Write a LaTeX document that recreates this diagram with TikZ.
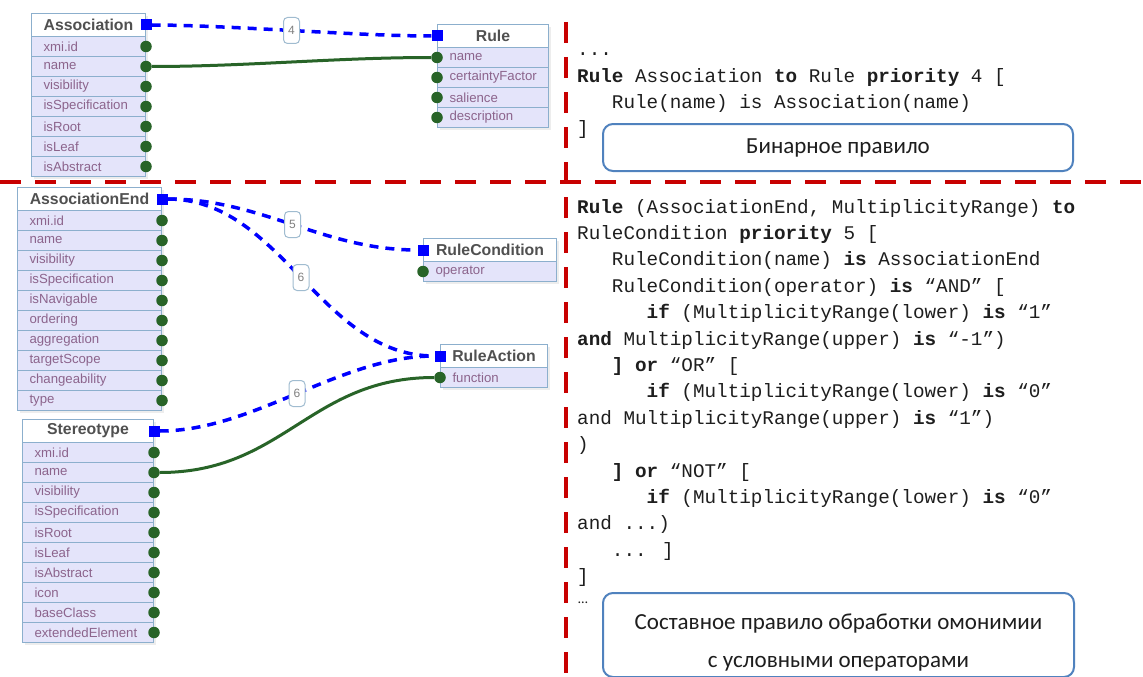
\documentclass[tikz,border=0pt]{standalone}
\usepackage{fontspec}
\setmainfont{Liberation Sans}
\newfontfamily\codefont{Liberation Mono}
\newfontfamily\capfont{Carlito}
\definecolor{rowfill}{RGB}{228,228,250}
\definecolor{boxborder}{RGB}{140,175,205}
\definecolor{rowtext}{RGB}{140,100,140}
\definecolor{hdrtext}{RGB}{80,80,80}
\definecolor{dotgreen}{RGB}{40,100,40}
\definecolor{linkblue}{RGB}{0,0,255}
\definecolor{sepred}{RGB}{200,0,0}
\definecolor{capblue}{RGB}{80,130,190}
\definecolor{lblborder}{RGB}{160,188,208}
\definecolor{codetext}{RGB}{30,30,30}
\newcommand{\tdots}{...}
\newcommand{\umlclass}[8]{%
  \fill[black, opacity=0.07] ({#2+3},{-#3-3}) rectangle ({#2+#4+3},{-#3-23-20*#6-3});
  \node[hdr, minimum width=#4pt, anchor=north west] (#1) at (#2,-#3) {#5};
  \pgfmathsetmacro{\tw}{#4-24}%
  \foreach \r [count=\i] in {#7} {%
    \node[rowbox, minimum width=#4pt, text width=\tw pt, anchor=north west] (#1-\i) at (#2,{-#3-23-20*(\i-1)}) {\r};
  }%
  \foreach \r [count=\i] in {#7} {%
    \node[dot] (#1-\i-p) at (#1-\i.#8) {};
  }%
  \node[sq] (#1-s) at (#1.#8) {};
}
\begin{document}
\begin{tikzpicture}[x=1pt,y=1pt,
  hdr/.style={rectangle, draw=boxborder, fill=white, line width=1pt, minimum height=23pt, inner sep=0pt, font=\bfseries\fontsize{15.8}{17}\selectfont, text=hdrtext},
  rowbox/.style={rectangle, draw=boxborder, fill=rowfill, line width=1pt, minimum height=20pt, inner xsep=12pt, inner ysep=0pt, font=\fontsize{13.2}{14}\selectfont, text=rowtext, align=left},
  dot/.style={circle, fill=dotgreen, inner sep=0pt, minimum size=11.5pt},
  sq/.style={rectangle, fill=linkblue, inner sep=0pt, minimum size=11pt},
  link/.style={draw=linkblue, line width=3.5pt, dash pattern=on 9pt off 7pt},
  attr/.style={draw=dotgreen, line width=3pt},
  lbl/.style={draw=lblborder, solid, line width=1pt, fill=white, rounded corners=4pt, minimum width=16pt, minimum height=26pt, inner sep=0pt, font=\fontsize{12}{13}\selectfont, text=gray},
  sep/.style={draw=sepred, line width=4pt, dash pattern=on 21pt off 14pt},
  code/.style={anchor=base west, inner sep=0pt, font=\codefont\fontsize{19.3}{24}\selectfont, text=codetext},
  capbox/.style={draw=capblue, line width=2pt, rounded corners=10pt, fill=white, anchor=north west, inner sep=0pt},
  captext/.style={font=\capfont\fontsize{23}{38}\selectfont, text=codetext, align=center, inner sep=0pt}
]
\useasboundingbox (0,0) rectangle (1143,-677);
\fill[white] (0,0) rectangle (1143,-677);
% separators
\coordinate (hL) at (0,-182);
\coordinate (hR) at (1143,-182);
\coordinate (vT) at (566,-22);
\coordinate (vB) at (566,-677);
\draw[sep] (hL) -- (hR);
\draw[sep] (vT) -- (vB);
% classes
\umlclass{assoc}{31}{13}{114}{Association}{7}{xmi.id,name,visibility,isSpecification,isRoot,isLeaf,isAbstract}{east}
\umlclass{rule}{437}{24}{111}{Rule}{4}{name,certaintyFactor,salience,description}{west}
\umlclass{ae}{17}{187}{144}{AssociationEnd}{10}{xmi.id,name,visibility,isSpecification,isNavigable,ordering,aggregation,targetScope,changeability,type}{east}
\umlclass{rc}{423}{238}{133}{RuleCondition}{1}{operator}{west}
\umlclass{ra}{440}{344}{107}{RuleAction}{1}{function}{west}
\umlclass{st}{22}{419}{131}{Stereotype}{10}{xmi.id,name,visibility,isSpecification,isRoot,isLeaf,isAbstract,icon,baseClass,extendedElement}{east}
% connectors
\draw[link] (assoc-s) .. controls +(80,0) and +(-80,0) .. (rule-s) node[lbl, pos=0.5] (l4) {4};
\draw[attr] (assoc-2-p) .. controls +(100,0) and +(-100,0) .. (rule-1-p);
\draw[link] (ae-s) .. controls +(100,0) and +(-100,0) .. (rc-s) node[lbl, pos=0.5] (l5) {5};
\draw[link] (ae-s) .. controls +(120,0) and +(-120,0) .. (ra-s) node[lbl, pos=0.5] (l6a) {6};
\draw[link] (st-s) .. controls +(100,0) and +(-100,0) .. (ra-s) node[lbl, pos=0.5] (l6b) {6};
\draw[attr] (st-2-p) .. controls +(130,0) and +(-130,0) .. (ra-1-p);
% code, top
\node[code] (t1) at (577,-56) {\tdots};
\node[code] (t2) at (577,-82) {\textbf{Rule} Association \textbf{to} Rule \textbf{priority} 4 [};
\node[code] (t3) at (577,-108) {\hphantom{000}Rule(name) is Association(name)};
\node[code] (t4) at (577,-134) {]};
% code, bottom
\foreach \t [count=\i] in {
  {\textbf{Rule} (AssociationEnd, MultiplicityRange) \textbf{to}},
  {RuleCondition \textbf{priority} 5 [},
  {\hphantom{000}RuleCondition(name) \textbf{is} AssociationEnd},
  {\hphantom{000}RuleCondition(operator) \textbf{is} “AND” [},
  {\hphantom{000000}\textbf{if} (MultiplicityRange(lower) \textbf{is} “1”},
  {\textbf{and} MultiplicityRange(upper) \textbf{is} “-1”)},
  {\hphantom{000}\textbf{] or} “OR” [},
  {\hphantom{000000}\textbf{if} (MultiplicityRange(lower) \textbf{is} “0”},
  {and MultiplicityRange(upper) \textbf{is} “1”)},
  {)},
  {\hphantom{000}\textbf{] or} “NOT” [},
  {\hphantom{000000}\textbf{if} (MultiplicityRange(lower) \textbf{is} “0”},
  {and \tdots)},
  {\hphantom{000}\tdots{} ]},
  {]}
}{\node[code] (b\i) at (577,{-213-26.4*(\i-1)}) {\t};}
\node[anchor=base west, inner sep=0pt, font=\capfont\fontsize{14}{16}\selectfont, text=codetext] (b16) at (578,-603) {…};
% captions
\node[capbox, minimum width=470pt, minimum height=47pt] (cap1) at (602,-123) {};
\node[captext] (cap1t) at (cap1.center) {Бинарное правило};
\node[capbox, minimum width=471pt, minimum height=84pt] (cap2) at (602,-592) {};
\node[captext] (cap2t) at ([yshift=-8pt]cap2.center) {Составное правило обработки омонимии\\с условными операторами};
\end{tikzpicture}
\end{document}
